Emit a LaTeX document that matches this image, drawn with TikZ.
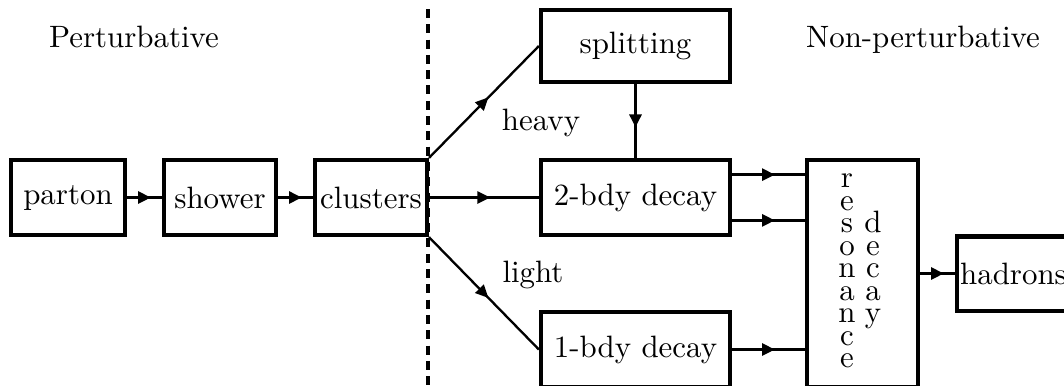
\documentclass[tikz,border=0pt]{standalone}
\usetikzlibrary{arrows.meta,decorations.markings,calc}
\begin{document}
\begin{tikzpicture}[x=0.3236pt,y=-0.3236pt,
  box/.style={draw,line width=1.35pt,minimum height=24.3pt,inner sep=1pt},
  midarrow/.style={postaction={decorate},decoration={markings,mark=at position 0.5 with {\arrow[xshift=2.1pt]{Triangle[length=4.2pt,width=3.8pt]}}}},
  thickline/.style={line width=1.2pt,midarrow},
  thinline/.style={line width=0.75pt,midarrow},
  vtext/.style={font=\fontsize{10}{7.28}\selectfont,align=center,inner sep=0pt},
  label/.style={anchor=base,inner sep=0pt}]
\useasboundingbox (0,0) rectangle (1064,385);
% divider
\draw[line width=1pt,dash pattern=on 2.9pt off 2.05pt] (428,9) -- (428,400);
% boxes
\node[box,minimum width=36.9pt] (parton) at (68,197.5) {parton};
\node[box,minimum width=36.2pt] (shower) at (220,197.5) {shower};
\node[box,minimum width=36.2pt] (clusters) at (371,197.5) {clusters};
\node[box,minimum width=61.2pt,minimum height=23.3pt] (splitting) at (635.5,46) {splitting};
\node[box,minimum width=61.2pt] (twobdy) at (635.5,197.5) {2-bdy decay};
\node[box,minimum width=61.2pt] (onebdy) at (635.5,349.5) {1-bdy decay};
\node[box,minimum width=35.9pt,minimum height=73.5pt] (reso) at (862.5,273.5) {};
\node[box,anchor=west,minimum height=24pt] (hadrons) at (955,273.5) {hadrons};
\node[vtext] (resotext) at (847,271.3) {r\\e\\s\\o\\n\\a\\n\\c\\e};
\node[vtext] (decaytext) at (873,270.3) {d\\e\\c\\a\\y};
% labels
\node[label] (pert) at (134,47) {Perturbative};
\node[label] (nonpert) at (923,47) {Non-perturbative};
\node[label] (heavy) at (541,130) {heavy};
\node[label] (light) at (533,282) {light};
% connectors
\draw[thickline] (parton) -- (shower);
\draw[thickline] (shower) -- (clusters);
\draw[thickline] (clusters) -- (twobdy);
\draw[thinline] (clusters.north east) -- (splitting.west);
\draw[thinline] (clusters.south east) -- (onebdy.west);
\draw[thickline] (splitting) -- (twobdy);
\coordinate (a1) at ([yshift=7.4pt]twobdy.east);
\coordinate (a2) at ([yshift=-7.4pt]twobdy.east);
\draw[thickline] (a1) -- (a1 -| reso.west);
\draw[thickline] (a2) -- (a2 -| reso.west);
\draw[thickline] (onebdy.east) -- (onebdy.east -| reso.west);
\draw[thickline] (reso.east) -- (hadrons.west);
\end{tikzpicture}
\end{document}
